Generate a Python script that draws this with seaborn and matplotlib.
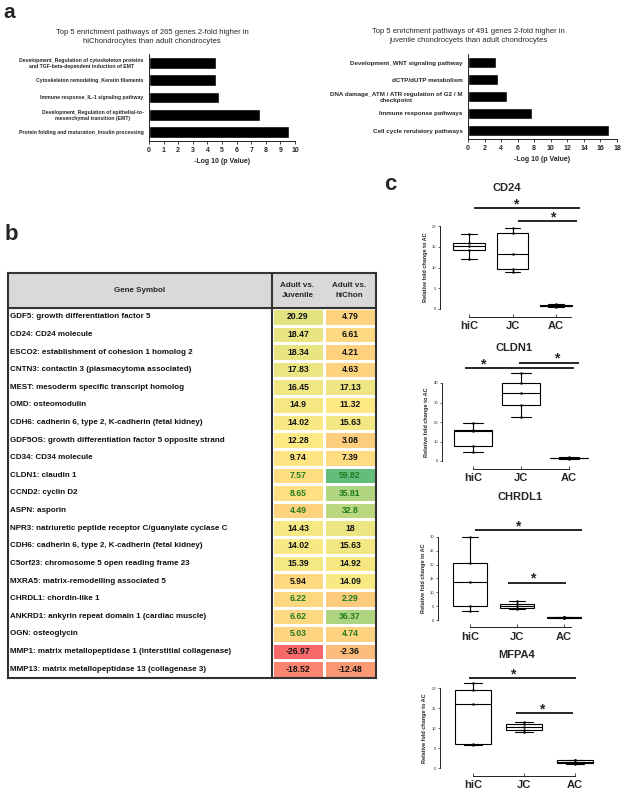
import numpy as np
import pandas as pd
import seaborn as sns
import matplotlib.pyplot as plt
from matplotlib import font_manager
from matplotlib.colors import LinearSegmentedColormap, TwoSlopeNorm

# ---------------------------------------------------------
# Panel a: top 5 enriched pathways (-log10 p value)
# ---------------------------------------------------------
hichon_title = ("Top 5 enrichment pathways of 265 genes 2-fold higher in\n"
                "hiChondrocytes than adult chondrocytes")
hichon_pathways = [
    "Development_Regulation of cytoskeleton proteins\nand TGF-beta-dependent induction of EMT",
    "Cytoskeleton remodeling_Keratin filaments",
    "Immune response_IL-1 signaling pathway",
    "Development_Regulation of epithelial-to-\nmesenchymal transition (EMT)",
    "Protein folding and maturation_Insulin processing",
]
hichon_logp = [4.62, 4.62, 4.8, 7.6, 9.6]

juvenile_title = ("Top 5 enrichment pathways of 491 genes 2-fold higher in\n"
                  "juvenile chondrocyets than adult chondrocytes")
juvenile_pathways = [
    "Development_WNT signaling pathway",
    "dCTP/dUTP metabolism",
    "DNA damage_ATM / ATR regulation of G2 / M\ncheckpoint",
    "Immune response pathways",
    "Cell cycle rerulatory pathways",
]
juvenile_logp = [3.4, 3.6, 4.77, 7.78, 17.0]

# ---------------------------------------------------------
# Panel b: fold change table
# ---------------------------------------------------------
gene_symbols = [
    "GDF5: growth differentiation factor 5",
    "CD24: CD24 molecule",
    "ESCO2: establishment of cohesion 1 homolog 2",
    "CNTN3: contactin 3 (plasmacytoma associated)",
    "MEST: mesoderm specific transcript homolog",
    "OMD: osteomodulin",
    "CDH6: cadherin 6, type 2, K-cadherin (fetal kidney)",
    "GDF5OS: growth differentiation factor 5 opposite strand",
    "CD34: CD34 molecule",
    "CLDN1: claudin 1",
    "CCND2: cyclin D2",
    "ASPN: asporin",
    "NPR3: natriuretic peptide receptor C/guanylate cyclase C",
    "CDH6: cadherin 6, type 2, K-cadherin (fetal kidney)",
    "C5orf23: chromosome 5 open reading frame 23",
    "MXRA5: matrix-remodelling associated 5",
    "CHRDL1: chordin-like 1",
    "ANKRD1: ankyrin repeat domain 1 (cardiac muscle)",
    "OGN: osteoglycin",
    "MMP1: matrix metallopeptidase 1 (interstitial collagenase)",
    "MMP13: matrix metallopeptidase 13 (collagenase 3)",
]
adult_vs_juvenile = [20.29, 18.47, 18.34, 17.83, 16.45, 14.9, 14.02, 12.28, 9.74, 7.57,
                     8.65, 4.49, 14.43, 14.02, 15.39, 5.94, 6.22, 6.62, 5.03, -26.97, -18.52]
adult_vs_hichon = [4.79, 6.61, 4.21, 4.63, 17.13, 11.32, 15.63, 3.08, 7.39, 59.82,
                   35.81, 32.8, 18, 15.63, 14.92, 14.09, 2.29, 36.37, 4.74, -2.36, -12.48]
highlighted = ["CLDN1", "CCND2", "ASPN", "CHRDL1", "ANKRD1", "OGN"]

# ---------------------------------------------------------
# Panel c: qPCR validation (relative fold change to AC)
# ---------------------------------------------------------
groups = ["hiC", "JC", "AC"]
cd24 = {"hiC": [12.0, 14.3, 15.3, 16.0, 18.0],
        "JC": [8.9, 9.6, 13.3, 18.2, 19.6],
        "AC": [0.5, 0.7, 0.8, 0.9, 1.1]}
cldn1 = {"hiC": [4.6, 7.7, 15.3, 16.0, 19.5],
         "JC": [22.5, 28.7, 35.0, 40.0, 45.0],
         "AC": [1.2, 1.4, 1.5, 1.6, 1.8]}
chrdl1 = {"hiC": [3.3, 5.0, 13.7, 20.6, 30.0],
          "JC": [4.1, 4.3, 5.0, 5.8, 7.0],
          "AC": [0.8, 0.9, 1.0, 1.05, 1.1]}
mfpa4 = {"hiC": [5.8, 6.0, 16.0, 19.5, 21.3],
         "JC": [8.9, 9.6, 10.3, 11.0, 11.6],
         "AC": [1.1, 1.3, 1.5, 1.9, 2.1]}

W, H = 624, 790
sns.set_style("white")
plt.rcParams["font.family"] = ["Liberation Sans", "DejaVu Sans"]

installed = {f.name for f in font_manager.fontManager.ttflist}
if "Liberation Sans Narrow" in installed:
    NARROW, shrink = "Liberation Sans Narrow", 1.0
else:
    NARROW, shrink = "Liberation Sans", 0.82

fig = plt.figure(figsize=(W / 100, H / 100), dpi=100, facecolor="white")


def px_axes(left, top, right, bottom):
    """Axes placed by pixel edges (origin at top-left)."""
    return fig.add_axes([left / W, 1 - bottom / H, (right - left) / W, (bottom - top) / H])


def fig_text(x, y, s, **kw):
    fig.text(x / W, 1 - y / H, s, **kw)


# ---------------- panel a ----------------
def enrichment_bars(ax, labels, values, xmax, step, label_size):
    sns.barplot(x=values, y=labels, orient="y", color="black", saturation=1,
                width=0.68, ax=ax)
    ax.set_xlim(0, xmax)
    ax.set_xticks(np.arange(0, xmax + 1, step))
    ax.set_ylabel("")
    ax.set_xlabel("-Log 10 (p Value)", fontsize=5, fontweight="bold", labelpad=3)
    ax.tick_params(axis="x", labelsize=5, length=2, width=0.6, pad=2, bottom=True)
    ax.tick_params(axis="y", labelsize=label_size, length=0, pad=4)
    for t in ax.get_xticklabels():
        t.set_fontweight("bold")
    for t in ax.get_yticklabels():
        t.set_fontweight("bold")
        t.set_multialignment("center")
    sns.despine(ax=ax)
    for side in ["left", "bottom"]:
        ax.spines[side].set_linewidth(0.6)
        ax.spines[side].set_color("black")


ax_l = px_axes(149, 54, 295, 141)
enrichment_bars(ax_l, hichon_pathways, hichon_logp, 10, 1, 3.7)
fig_text(152, 37, hichon_title, ha="center", va="center", fontsize=5.5, linespacing=1.3)

ax_r = px_axes(468, 54, 617, 139)
enrichment_bars(ax_r, juvenile_pathways, juvenile_logp, 18, 2, 4.5)
fig_text(468, 36, juvenile_title, ha="center", va="center", fontsize=5.5, linespacing=1.3)

# ---------------- panel b ----------------
fc_table = pd.DataFrame({"Adult vs.\nJuvenile": adult_vs_juvenile,
                         "Adult vs.\nhiChon": adult_vs_hichon})
cell_text = fc_table.map(lambda v: f"{v:g}").values
all_vals = fc_table.values.ravel()
excel_cmap = LinearSegmentedColormap.from_list("excel", ["#F8696B", "#FFEB84", "#63BE7B"])
norm = TwoSlopeNorm(vmin=all_vals.min(), vcenter=np.median(all_vals), vmax=all_vals.max())

ax_heat = px_axes(272, 308, 376, 678)
sns.heatmap(fc_table, ax=ax_heat, cmap=excel_cmap, norm=norm, annot=cell_text, fmt="",
            cbar=False, linewidths=0.8, linecolor="white",
            xticklabels=False, yticklabels=False,
            annot_kws={"fontsize": 7.6 * shrink, "fontweight": "bold",
                       "family": [NARROW, "DejaVu Sans"]})
symbols = [g.split(":")[0] for g in gene_symbols]
for k, txt in enumerate(ax_heat.texts):
    txt.set_color("#1f7a1f" if symbols[k // 2] in highlighted else "#111111")

ax_gene = px_axes(8, 308, 272, 678)
ax_gene.set_xlim(0, 1)
ax_gene.set_ylim(len(gene_symbols), 0)
ax_gene.axis("off")
for i, g in enumerate(gene_symbols):
    ax_gene.text(0.008, i + 0.5, g, ha="left", va="center", fontsize=7.0 * shrink,
                 fontweight="bold", family=[NARROW, "DejaVu Sans"], color="#111111")

ax_frame = px_axes(8, 273, 376, 678)
ax_frame.set_xlim(0, 1)
ax_frame.set_ylim(0, 1)
ax_frame.set_facecolor("none")
ax_frame.set_xticks([])
ax_frame.set_yticks([])
hdr_bottom = 1 - 35 / 405
gene_edge = 264 / 368
ax_frame.axhspan(hdr_bottom, 1, color="#d9d9d9", zorder=0)
ax_frame.axhline(hdr_bottom, color="#333333", lw=1.5)
ax_frame.axvline(gene_edge, color="#333333", lw=1.5)
for sp in ax_frame.spines.values():
    sp.set_visible(True)
    sp.set_linewidth(1.5)
    sp.set_color("#333333")
hdr_mid = (1 + hdr_bottom) / 2
ax_frame.text(gene_edge / 2, hdr_mid, "Gene Symbol", ha="center", va="center",
              fontsize=7 * shrink, fontweight="bold", family=[NARROW, "DejaVu Sans"])
col_centers = [(264 + 25.5) / 368, (315 + 26.5) / 368]
for cx, col in zip(col_centers, fc_table.columns):
    ax_frame.text(cx, hdr_mid, col, ha="center", va="center", fontsize=7 * shrink,
                  fontweight="bold", family=[NARROW, "DejaVu Sans"], linespacing=1.5)

# ---------------- panel c ----------------
# per-gene layout: hiC centre px, px per category, y=0 px, px per unit, ...
box_panels = [
    ("CD24", cd24, dict(c0=469, s=43.5, xlim=(-0.67, 2.8), y0=309, k=4.15, ylim=(-0.5, 20.5),
                        top=20, step=5, xend=2.35, width=0.72, title=(0.87, 29.2),
                        brackets=[(0.11, 2.55, 24.3, 1.08), (1.13, 2.48, 21.2, 1.93)])),
    ("CLDN1", cldn1, dict(c0=473, s=48, xlim=(-0.65, 2.6), y0=461, k=1.95, ylim=(-1, 46),
                          top=40, step=10, xend=2.0, width=0.8, title=(0.85, 58),
                          brackets=[(-0.17, 2.1, 47.7, 0.21), (0.96, 2.21, 50.3, 1.74)])),
    ("CHRDL1", chrdl1, dict(c0=470, s=47, xlim=(-0.68, 2.65), y0=620, k=2.77, ylim=(-0.7, 31),
                            top=30, step=5, xend=2.15, width=0.72, title=(1.06, 44.4),
                            brackets=[(0.11, 2.38, 32.5, 1.02), (0.81, 2.04, 13.4, 1.34)])),
    ("MFPA4", mfpa4, dict(c0=473, s=51, xlim=(-0.65, 2.45), y0=768, k=4.0, ylim=(-0.5, 22),
                          top=20, step=5, xend=2.0, width=0.72, title=(0.86, 28.2),
                          brackets=[(-0.08, 2.02, 22.5, 0.78), (0.84, 1.96, 13.75, 1.35)])),
]

for gene, vals, cfg in box_panels:
    df = pd.DataFrame([(g, v) for g in groups for v in vals[g]], columns=["group", "fold"])
    left = cfg["c0"] + cfg["xlim"][0] * cfg["s"]
    right = cfg["c0"] + cfg["xlim"][1] * cfg["s"]
    top = cfg["y0"] - cfg["ylim"][1] * cfg["k"]
    bottom = cfg["y0"] - cfg["ylim"][0] * cfg["k"]
    ax = px_axes(left, top, right, bottom)

    sns.boxplot(data=df, x="group", y="fold", order=groups, whis=(0, 100),
                width=cfg["width"], color="white", linecolor="black", linewidth=0.8,
                showfliers=False, ax=ax)
    sns.stripplot(data=df, x="group", y="fold", order=groups, jitter=False,
                  color="black", size=1.8, ax=ax)

    ax.set_xlim(*cfg["xlim"])
    ax.set_ylim(*cfg["ylim"])
    ax.set_yticks(np.arange(0, cfg["top"] + 0.1, cfg["step"]))
    ax.spines[["top", "right"]].set_visible(False)
    ax.spines["left"].set_bounds(0, cfg["top"])
    ax.spines["bottom"].set_bounds(0, cfg["xend"])
    ax.spines["bottom"].set_position(("outward", 4))
    for side in ["left", "bottom"]:
        ax.spines[side].set_linewidth(0.7)
        ax.spines[side].set_color("#222222")
    ax.tick_params(axis="y", labelsize=3, length=1.5, width=0.5, pad=1, left=True)
    ax.tick_params(axis="x", direction="in", length=2.5, width=0.6, labelsize=8, pad=3,
                   bottom=True)
    for t in ax.get_xticklabels():
        t.set_fontweight("bold")
    ax.set_xlabel("")
    ax.set_ylabel("Relative fold change to AC", fontsize=4, fontweight="bold")
    lo, hi = cfg["ylim"]
    ax.yaxis.set_label_coords(-0.08, (cfg["top"] / 2 - lo) / (hi - lo))

    tx, ty = cfg["title"]
    ax.text(tx, ty, gene, ha="center", va="center", fontsize=8, fontweight="bold",
            clip_on=False)
    for x_start, x_end, y_line, x_star in cfg["brackets"]:
        ax.plot([x_start, x_end], [y_line, y_line], color="black", lw=1.2,
                clip_on=False, solid_capstyle="butt")
        ax.text(x_star, y_line, "*", ha="center", va="baseline", fontsize=10,
                fontweight="bold", clip_on=False)

# panel letters
fig_text(3, 18, "a", fontsize=15, fontweight="bold", va="baseline")
fig_text(5, 240, "b", fontsize=16, fontweight="bold", va="baseline")
fig_text(384, 190, "c", fontsize=16, fontweight="bold", va="baseline")

fig.savefig("out.png", dpi=100, facecolor="white")
